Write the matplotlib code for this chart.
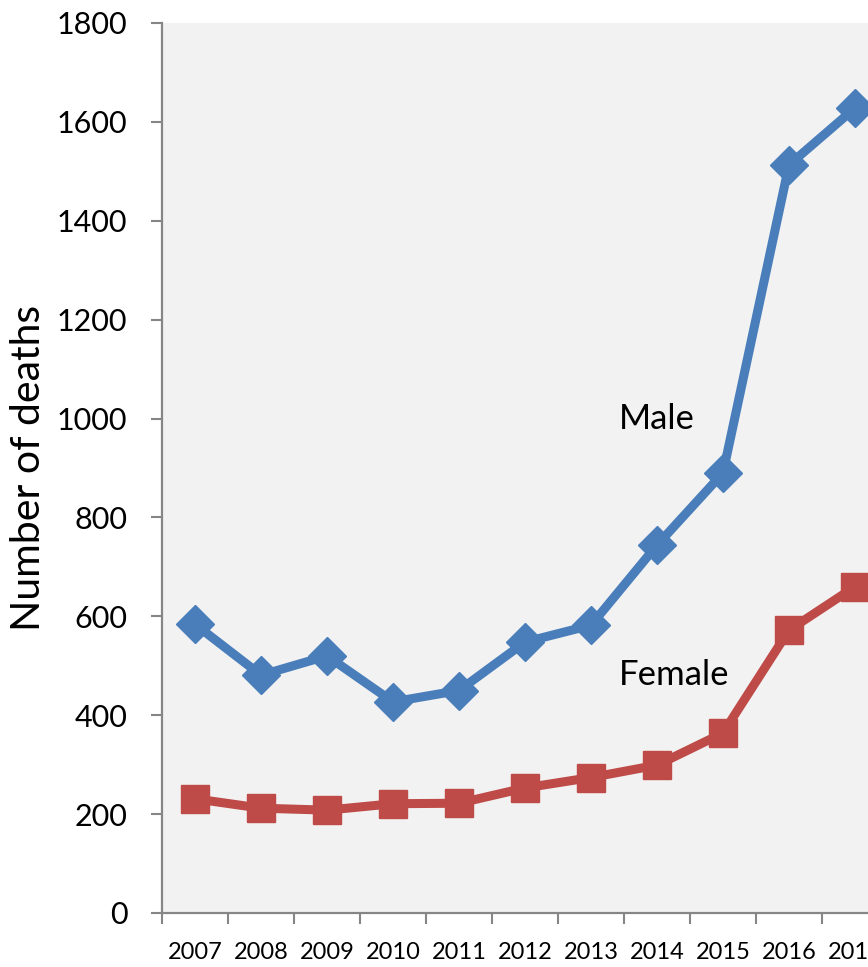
import matplotlib.pyplot as plt
import numpy as np

years = ['2007', '2008', '2009', '2010', '2011', '2012', '2013', '2014', '2015', '2016', '2017']
male = [584, 481, 520, 427, 450, 548, 582, 744, 890, 1513, 1628]
female = [231, 212, 208, 221, 222, 253, 274, 299, 364, 572, 660]

plt.rcParams['font.family'] = ['Lato', 'DejaVu Sans']

fig = plt.figure(figsize=(8.68, 9.67), dpi=100)
# plot area runs past the right edge, like the cropped original
ax = fig.add_axes([162/868, 54/967, 726/868, 890/967])
ax.set_facecolor('#F2F2F2')

x = np.arange(len(years))
ax.plot(x, male, '-D', color='#4A7EBB', lw=6.5, ms=19, mec='#4A7EBB', clip_on=False)
ax.plot(x, female, '-s', color='#BE4B48', lw=6.5, ms=20, mec='#BE4B48', clip_on=False)

ax.set_xlim(-0.5, len(years) - 0.5)
ax.set_ylim(0, 1800)
ax.set_yticks(np.arange(0, 1801, 200))
ax.set_xticks(x)
ax.set_xticklabels(years, fontsize=17)
ax.set_xticks(np.arange(-0.5, len(years), 1), minor=True)
ax.tick_params(axis='x', which='major', length=0, pad=21)
ax.tick_params(axis='x', which='minor', length=8, width=1.5, color='#868686')
ax.tick_params(axis='y', length=8, width=1.5, color='#868686', labelsize=22, pad=17)

for s in ['top', 'right']:
    ax.spines[s].set_visible(False)
for s in ['left', 'bottom']:
    ax.spines[s].set_color('#868686')
    ax.spines[s].set_linewidth(1.6)

ax.set_ylabel('Number of deaths', fontsize=29.5)
ax.yaxis.set_label_coords(-0.158, 0.5)

ax.text(6.42, 1000, 'Male', fontsize=25, va='center', ha='left')
ax.text(6.42, 481, 'Female', fontsize=25, va='center', ha='left')

fig.savefig('out.png', dpi=100)
